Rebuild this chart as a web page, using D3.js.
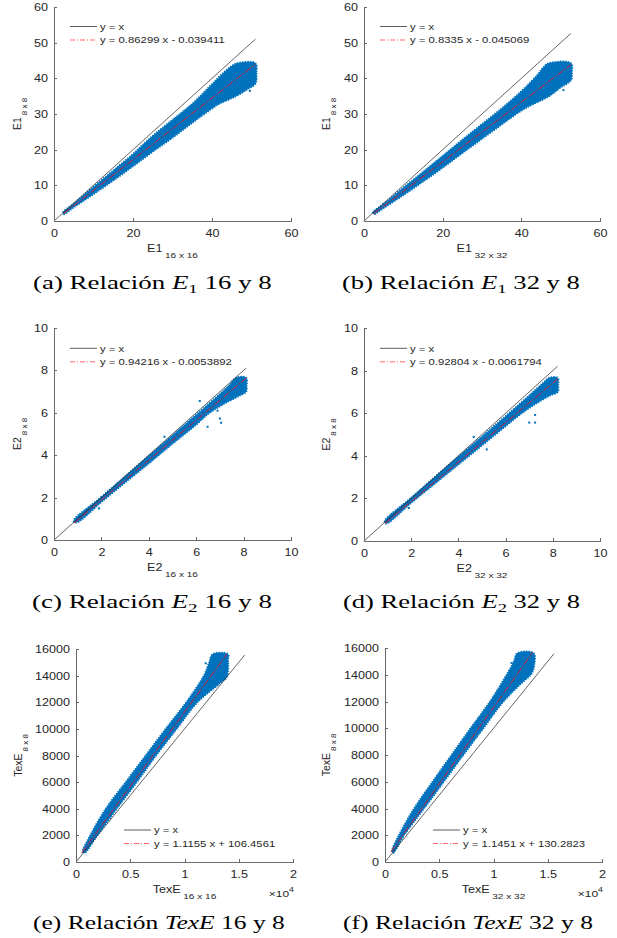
<!DOCTYPE html>
<html>

<head>
    <meta charset="utf-8">
    <script src="https://d3js.org/d3.v7.min.js"></script>
    <style>
        body { margin: 0; background: #fff; }
        text { white-space: pre; }
    </style>

    <script type="text/javascript">
        // ---- values ----
        let panelIds = ["a", "b", "c", "d", "e", "f"];

        let captionPre = ["(a) Relación ", "(b) Relación ", "(c) Relación ", "(d) Relación ", "(e) Relación ", "(f) Relación "];
        let captionVar = ["E", "E", "E", "E", "TexE", "TexE"];
        let captionSub = ["1", "1", "2", "2", "", ""];
        let captionPost = [" 16 y 8", " 32 y 8", " 16 y 8", " 32 y 8", " 16 y 8", " 32 y 8"];

        let xLabelMain = ["E1", "E1", "E2", "E2", "TexE", "TexE"];
        let xLabelSub = ["16 x 16", "32 x 32", "16 x 16", "32 x 32", "16 x 16", "32 x 32"];
        let yLabelMain = ["E1", "E1", "E2", "E2", "TexE", "TexE"];
        let yLabelSub = ["8 x 8", "8 x 8", "8 x 8", "8 x 8", "8 x 8", "8 x 8"];

        let xDomains = [[0, 60], [0, 60], [0, 10], [0, 10], [0, 20000], [0, 20000]];
        let yDomains = [[0, 60], [0, 60], [0, 10], [0, 10], [0, 16000], [0, 16000]];

        let xTicksE1 = [0, 20, 40, 60];
        let yTicksE1 = [0, 10, 20, 30, 40, 50, 60];
        let ticksE2 = [0, 2, 4, 6, 8, 10];
        let xTicksTex = [0, 5000, 10000, 15000, 20000];
        let xTickLabelsTex = ["0", "0.5", "1", "1.5", "2"];
        let yTicksTex = [0, 2000, 4000, 6000, 8000, 10000, 12000, 14000, 16000];

        let legendIdentity = "y = x";
        let legendFit = [
            "y = 0.86299 x - 0.039411",
            "y = 0.8335 x - 0.045069",
            "y = 0.94216 x - 0.0053892",
            "y = 0.92804 x - 0.0061794",
            "y = 1.1155 x + 106.4561",
            "y = 1.1451 x + 130.2823"
        ];

        // y = x reference lines and fitted lines (end points)
        let identityLines = [
            [[0, 0], [51, 51]],
            [[0, 0], [52.6, 52.6]],
            [[0, 0], [8.1, 8.1]],
            [[0, 0], [8.2, 8.2]],
            [[0, 0], [15550, 15550]],
            [[0, 0], [15576, 15576]]
        ];
        let fitLines = [
            [[2.5, 2.12], [51, 43.97]],
            [[2.5, 2.04], [52.6, 43.8]],
            [[0.85, 0.8], [8.1, 7.63]],
            [[0.9, 0.83], [8.2, 7.6]],
            [[520, 686], [13900, 15610]],
            [[550, 760], [13610, 15680]]
        ];

        // outline of the point clouds: upper edge then lower edge
        let cloudUpperA = [[2.3, 2.4], [5, 4.8], [10, 9.5], [15, 14.1], [20, 18.7], [22, 20.8], [25, 23.8], [30, 28.3], [35, 32.8], [40, 38.3], [43, 41.6], [45, 43.4], [46.5, 44.2], [51, 44.2]];
        let cloudLowerA = [[51.2, 41.5], [51, 38.6], [49, 37.0], [46, 35.0], [42, 33.0], [40, 31.6], [35, 27.6], [30, 23.4], [25, 19.5], [20, 15.4], [15, 11.4], [10, 7.6], [5, 3.9], [2.5, 2.0]];

        let cloudUpperB = [[2.3, 2.4], [5, 4.7], [10, 9.3], [15, 13.7], [20, 18.2], [25, 22.7], [30, 27.1], [35, 31.5], [40, 36.3], [44, 40.8], [46, 43.5], [47, 44.2], [52.6, 44.2]];
        let cloudLowerB = [[52.8, 41.5], [52.6, 39.5], [50, 37.5], [47, 35.0], [43, 32.8], [40, 31.0], [35, 27.1], [30, 23.1], [25, 19.1], [20, 15.0], [15, 11.1], [10, 7.3], [5, 3.7], [2.5, 2.0]];

        let cloudUpperC = [[0.85, 0.95], [2, 2.02], [3, 2.99], [4, 3.96], [5, 4.93], [6, 5.9], [7, 6.88], [7.4, 7.3], [7.7, 7.65], [8.1, 7.65]];
        let cloudLowerC = [[8.12, 7.3], [8.1, 7.0], [7.8, 6.8], [7.2, 6.45], [6.5, 5.95], [6, 5.45], [5, 4.55], [4, 3.62], [3, 2.72], [2, 1.8], [1, 0.85], [0.85, 0.85]];

        let cloudUpperD = [[0.9, 0.97], [2, 2.02], [3, 2.99], [4, 3.95], [5, 4.9], [6, 5.85], [7, 6.82], [7.6, 7.42], [7.85, 7.65], [8.2, 7.65]];
        let cloudLowerD = [[8.22, 7.3], [8.2, 7.0], [7.9, 6.85], [7.2, 6.4], [6.5, 5.85], [6, 5.4], [5, 4.5], [4, 3.6], [3, 2.7], [2, 1.8], [1, 0.85], [0.9, 0.85]];

        let cloudUpperE = [[650, 780], [1300, 1950], [2760, 4000], [4600, 6000], [6440, 8000], [8280, 10000], [10184, 12000], [11800, 14000], [12300, 15000], [12600, 15600]];
        let cloudLowerE = [[14000, 15600], [14000, 15200], [13900, 13930], [13250, 13430], [11170, 12000], [9260, 10000], [7360, 8000], [5580, 6000], [3740, 4000], [1900, 1950], [800, 700]];

        let cloudUpperF = [[650, 790], [1300, 2000], [2700, 4000], [4400, 6000], [6150, 8000], [7900, 10000], [9700, 12000], [11300, 14100], [11900, 15000], [12200, 15600]];
        let cloudLowerF = [[13700, 15600], [13750, 14800], [13500, 14100], [12600, 13400], [10900, 12000], [9050, 10000], [7200, 8000], [5400, 6000], [3580, 4000], [1740, 2000], [750, 700]];

        // stray points outside the clouds
        let strayA = [[45.5, 36.2], [49.6, 36.5]];
        let strayB = [[50.7, 36.7], [47.2, 36.4]];
        let strayC = [[6.15, 6.56], [7.0, 5.73], [7.05, 5.53], [6.48, 5.34], [4.66, 4.87], [1.9, 1.49], [6.9, 6.1]];
        let strayD = [[7.25, 5.56], [7.0, 5.56], [7.25, 5.92], [4.65, 4.88], [5.2, 4.3], [1.9, 1.55]];
        let strayE = [[11960, 14930], [12400, 14700]];
        let strayF = [[11670, 14880], [10600, 12010]];

        let cloudUpper = [cloudUpperA, cloudUpperB, cloudUpperC, cloudUpperD, cloudUpperE, cloudUpperF];
        let cloudLower = [cloudLowerA, cloudLowerB, cloudLowerC, cloudLowerD, cloudLowerE, cloudLowerF];
        let strays = [strayA, strayB, strayC, strayD, strayE, strayF];

        // ---- layout (pixels) ----
        let layout = [
            { L: 54, R: 291, T: 7, B: 221, yLabX: 21, legX: 70, legY: 26.5, capX: 33, capW: 239, capY: 289 },
            { L: 364, R: 600, T: 7, B: 221, yLabX: 330, legX: 380, legY: 26.5, capX: 342, capW: 238, capY: 289 },
            { L: 54, R: 291, T: 328, B: 540, yLabX: 21, legX: 70, legY: 348.3, capX: 32, capW: 240, capY: 608 },
            { L: 364, R: 600, T: 328, B: 541, yLabX: 330, legX: 380, legY: 348.3, capX: 343, capW: 237, capY: 608 },
            { L: 76, R: 293, T: 649, B: 862, yLabX: 22, legX: 124, legY: 830, capX: 33, capW: 252, capY: 929 },
            { L: 385, R: 602, T: 648, B: 862, yLabX: 330, legX: 433, legY: 830, capX: 343, capW: 250, capY: 929 }
        ];

        let SX = 1.26;           // the figure is stretched horizontally
        let sans = "'Liberation Sans', Arial, Helvetica, sans-serif";
        let serif = "'Liberation Serif', 'DejaVu Serif', serif";
        let blue = "#0072BD";
        let ink = "#262626";

        function draw() {
            let svg = d3.select("body")
                .append("svg")
                    .attr("width", 617)
                    .attr("height", 938);

            panelIds.forEach((id, i) => {
                let lo = layout[i];
                let g = svg.append("g").attr("class", "panel-" + id);

                let x = d3.scaleLinear().domain(xDomains[i]).range([lo.L, lo.R]);
                let y = d3.scaleLinear().domain(yDomains[i]).range([lo.B, lo.T]);

                let xAxis = d3.axisBottom(x).tickSizeInner(-3).tickSizeOuter(0).tickPadding(9);
                let yAxis = d3.axisLeft(y).tickSizeInner(-3).tickSizeOuter(0).tickPadding(6);
                if (i < 2) {
                    xAxis.tickValues(xTicksE1);
                    yAxis.tickValues(yTicksE1);
                } else if (i < 4) {
                    xAxis.tickValues(ticksE2);
                    yAxis.tickValues(ticksE2);
                } else {
                    xAxis.tickValues(xTicksTex).tickFormat((d, j) => xTickLabelsTex[j]);
                    yAxis.tickValues(yTicksTex).tickFormat(d3.format("d"));
                }

                let line = d3.line().x(d => x(d[0])).y(d => y(d[1]));
                let blob = d3.line().x(d => x(d[0])).y(d => y(d[1]))
                    .curve(d3.curveCatmullRomClosed.alpha(0.5));

                // point cloud
                let outline = cloudUpper[i].concat(cloudLower[i]);
                g.append("path")
                    .attr("d", blob(outline))
                    .attr("fill", blue)
                    .attr("stroke", blue)
                    .attr("stroke-width", 0.8)
                    .attr("stroke-linejoin", "round");
                // speckled rim so the edge reads as scattered dots
                g.append("path")
                    .attr("d", blob(outline))
                    .attr("fill", "none")
                    .attr("stroke", blue)
                    .attr("stroke-width", 2.4)
                    .attr("stroke-dasharray", "1.2 1.4");

                g.selectAll("rect.stray")
                    .data(strays[i])
                    .join("rect")
                        .attr("class", "stray")
                        .attr("x", d => x(d[0]) - 1)
                        .attr("y", d => y(d[1]) - 1)
                        .attr("width", 2)
                        .attr("height", 2)
                        .attr("fill", blue);

                // y = x
                g.append("path")
                    .attr("d", line(identityLines[i]))
                    .attr("fill", "none")
                    .attr("stroke", "#222")
                    .attr("stroke-width", 0.7);

                // fitted line
                g.append("path")
                    .attr("d", line(fitLines[i]))
                    .attr("fill", "none")
                    .attr("stroke", "#f01020")
                    .attr("stroke-width", 0.9)
                    .attr("stroke-dasharray", "7 1.5 1.5 1.5");

                // axes
                let gx = g.append("g")
                    .attr("transform", `translate(0,${lo.B})`)
                    .call(xAxis);
                let gy = g.append("g")
                    .attr("transform", `translate(${lo.L},0)`)
                    .call(yAxis);

                [gx, gy].forEach(ax => {
                    ax.select(".domain").attr("stroke", "#6a6a6a").attr("stroke-width", 1).attr("shape-rendering", "crispEdges");
                    ax.selectAll(".tick line").attr("stroke", "#6a6a6a").attr("stroke-width", 1).attr("shape-rendering", "crispEdges");
                    ax.selectAll(".tick text")
                        .attr("fill", ink)
                        .attr("font-family", sans)
                        .attr("font-size", 10);
                });
                gx.selectAll(".tick text").attr("transform", `scale(${SX},1)`);
                gy.selectAll(".tick text")
                    .attr("x", 0)
                    .attr("dy", "0.35em")
                    .attr("transform", `translate(-6,0) scale(${SX},1)`);

                // x label
                let xl = g.append("text")
                    .attr("transform", `translate(${(lo.L + lo.R) / 2},${lo.B + 31}) scale(${SX},1)`)
                    .attr("text-anchor", "middle")
                    .attr("font-family", sans)
                    .attr("fill", ink);
                xl.append("tspan").attr("font-size", 10).text(xLabelMain[i]);
                xl.append("tspan").attr("font-size", 8).attr("dx", 2).attr("dy", 6).text(xLabelSub[i]);

                if (i >= 4) {
                    let mult = g.append("text")
                        .attr("transform", `translate(${lo.R + 1},${lo.B + 35}) scale(${SX},1)`)
                        .attr("text-anchor", "end")
                        .attr("font-family", sans)
                        .attr("fill", ink);
                    mult.append("tspan").attr("font-size", 9.5).text("\u00d710");
                    mult.append("tspan").attr("font-size", 7).attr("dy", -5).text("4");
                }

                // y label
                let yl = g.append("text")
                    .attr("transform", `translate(${lo.yLabX},${(lo.T + lo.B) / 2}) rotate(-90)`)
                    .attr("text-anchor", "middle")
                    .attr("font-family", sans)
                    .attr("fill", ink);
                yl.append("tspan").attr("font-size", 10.5).text(yLabelMain[i]);
                yl.append("tspan").attr("font-size", 8).attr("dx", 2).attr("dy", 6).text(yLabelSub[i]);

                // legend
                let leg = g.append("g").attr("transform", `translate(${lo.legX},${lo.legY})`);
                leg.append("line")
                    .attr("x1", 0).attr("x2", 27).attr("y1", 0).attr("y2", 0)
                    .attr("stroke", "#333").attr("stroke-width", 0.8);
                leg.append("line")
                    .attr("x1", 0).attr("x2", 27).attr("y1", 13.5).attr("y2", 13.5)
                    .attr("stroke", "#ff3b3b").attr("stroke-width", 0.8)
                    .attr("stroke-dasharray", "5 2 1 2");
                [legendIdentity, legendFit[i]].forEach((t, k) => {
                    leg.append("text")
                        .attr("transform", `translate(30,${k * 13.5 + 3.3}) scale(${SX},1)`)
                        .attr("font-family", sans)
                        .attr("font-size", 9)
                        .attr("fill", ink)
                        .text(t);
                });

                // caption
                let cap = g.append("text")
                    .attr("font-family", serif)
                    .attr("font-size", 18.5)
                    .attr("fill", "#000");
                cap.append("tspan").text(captionPre[i]);
                cap.append("tspan").attr("font-style", "italic").text(captionVar[i]);
                if (captionSub[i] !== "") {
                    cap.append("tspan").attr("font-size", 13).attr("dy", 4).text(captionSub[i]);
                    cap.append("tspan").attr("dy", -4).text(captionPost[i]);
                } else {
                    cap.append("tspan").text(captionPost[i]);
                }
                let w = cap.node().getComputedTextLength();
                cap.attr("transform", `translate(${lo.capX},${lo.capY}) scale(${lo.capW / w},1)`);
            });
        }
    </script>
</head>

<body>
    <script type="text/javascript">
        draw();
    </script>
</body>

</html>
